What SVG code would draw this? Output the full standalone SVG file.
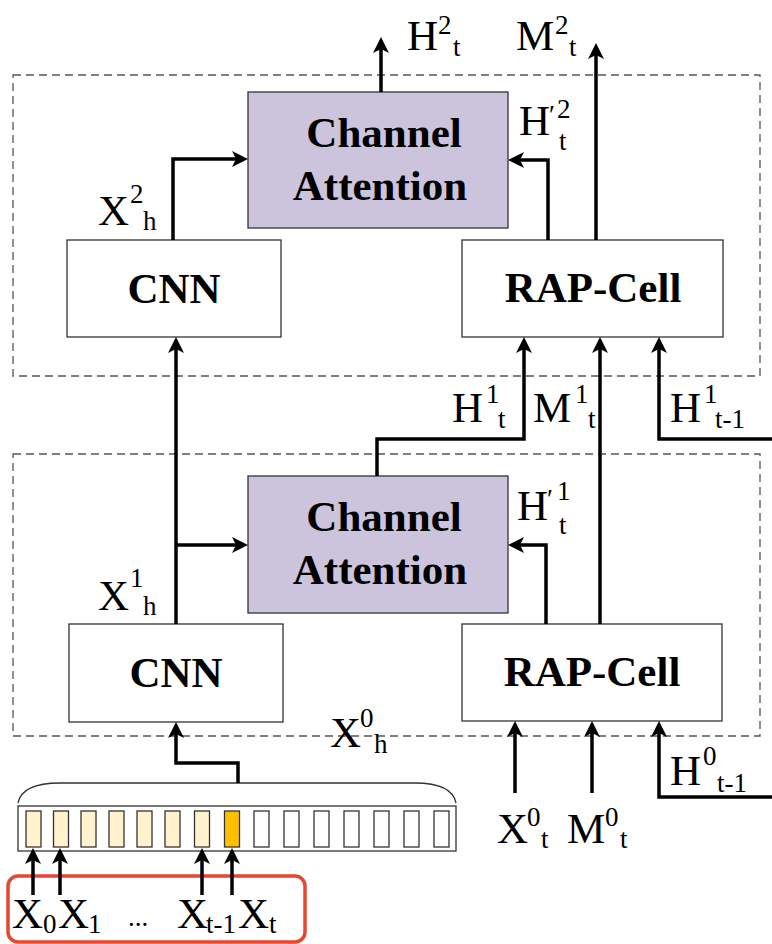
<svg xmlns="http://www.w3.org/2000/svg" width="772" height="944" viewBox="0 0 772 944">
<defs>
<marker id="ah" markerUnits="userSpaceOnUse" markerWidth="16" markerHeight="16" refX="6" refY="8" orient="auto">
<path d="M0,0 L16,8 L0,16 L4,8 z" fill="#000"/>
</marker>
<style>
.dash{fill:none;stroke:#555;stroke-width:1.3;stroke-dasharray:8 5}
.box{fill:#fff;stroke:#333;stroke-width:1.3}
.ca{fill:#ccc3dd;stroke:#333;stroke-width:1.3}
.bt{font-family:"Liberation Serif",serif;font-weight:bold;font-size:43px;text-anchor:middle;fill:#000}
.lb{font-family:"Liberation Serif",serif;font-size:43px;fill:#000}
.sm{font-family:"Liberation Serif",serif;font-size:27px;fill:#000}
.cn path{fill:none;stroke:#000;stroke-width:3.5;stroke-linejoin:miter}
.cell{stroke:#333;stroke-width:1.3}
</style>
</defs>
<rect width="772" height="944" fill="#fff"/>

<g id="layer2-frame"><rect class="dash" x="13" y="75" width="747" height="301"/></g>
<g id="layer1-frame"><rect class="dash" x="13" y="454" width="747" height="282"/></g>

<g id="ca2"><rect class="ca" x="248" y="92" width="260" height="136"/>
<text class="bt" x="384" y="147">Channel</text><text class="bt" x="380" y="200">Attention</text></g>
<g id="cnn2"><rect class="box" x="67" y="240" width="214" height="97"/><text class="bt" x="174" y="303">CNN</text></g>
<g id="rap2"><rect class="box" x="462" y="240" width="261" height="97"/><text class="bt" x="593" y="302">RAP-Cell</text></g>

<g id="ca1"><rect class="ca" x="248" y="476" width="260" height="137"/>
<text class="bt" x="384" y="531">Channel</text><text class="bt" x="380" y="584">Attention</text></g>
<g id="cnn1"><rect class="box" x="69" y="624" width="214" height="98"/><text class="bt" x="176" y="687">CNN</text></g>
<g id="rap1"><rect class="box" x="462" y="624" width="260" height="97"/><text class="bt" x="592" y="686">RAP-Cell</text></g>

<g id="sequence">
<path d="M18,803 Q22,783 60,783 L415,783 Q452,783 456,803" fill="none" stroke="#333" stroke-width="1.3"/>
<rect x="18" y="806" width="438" height="45" fill="#fff" stroke="#333" stroke-width="1.3"/>
<rect class="cell" fill="#fff2cc" x="26" y="811" width="15" height="36"/>
<rect class="cell" fill="#fff2cc" x="53.5" y="811" width="15" height="36"/>
<rect class="cell" fill="#fff2cc" x="81" y="811" width="15" height="36"/>
<rect class="cell" fill="#fff2cc" x="109" y="811" width="15" height="36"/>
<rect class="cell" fill="#fff2cc" x="137" y="811" width="15" height="36"/>
<rect class="cell" fill="#fff2cc" x="165" y="811" width="15" height="36"/>
<rect class="cell" fill="#fff2cc" x="194.5" y="811" width="15" height="36"/>
<rect class="cell" fill="#ffc000" x="224.5" y="811" width="15" height="36"/>
<rect class="cell" fill="#fff" x="254" y="811" width="15" height="36"/>
<rect class="cell" fill="#fff" x="284" y="811" width="15" height="36"/>
<rect class="cell" fill="#fff" x="314" y="811" width="15" height="36"/>
<rect class="cell" fill="#fff" x="344" y="811" width="15" height="36"/>
<rect class="cell" fill="#fff" x="374" y="811" width="15" height="36"/>
<rect class="cell" fill="#fff" x="404" y="811" width="15" height="36"/>
<rect class="cell" fill="#fff" x="434" y="811" width="15" height="36"/>
</g>

<g id="inputs-box"><rect x="8" y="876" width="297" height="66" rx="10" ry="10" fill="none" stroke="#e8472f" stroke-width="3.5"/></g>

<g id="connectors" class="cn">
<path d="M381,92 V47" marker-end="url(#ah)"/>
<path d="M596,240 V53" marker-end="url(#ah)"/>
<path d="M548,240 V160 H518" marker-end="url(#ah)"/>
<path d="M173,240 V159 H238" marker-end="url(#ah)"/>
<path d="M176,624 V347" marker-end="url(#ah)"/>
<path d="M176,545 H238" marker-end="url(#ah)"/>
<path d="M377,476 V439 H524 V347" marker-end="url(#ah)"/>
<path d="M600,624 V347" marker-end="url(#ah)"/>
<path d="M772,439 H659 V347" marker-end="url(#ah)"/>
<path d="M546,624 V545 H518" marker-end="url(#ah)"/>
<path d="M515,793 V731" marker-end="url(#ah)"/>
<path d="M592,793 V731" marker-end="url(#ah)"/>
<path d="M772,797 H659 V731" marker-end="url(#ah)"/>
<path d="M238,783 V763 H176 V732" marker-end="url(#ah)"/>
<path d="M33,895 V858" marker-end="url(#ah)"/>
<path d="M60,895 V858" marker-end="url(#ah)"/>
<path d="M202,895 V858" marker-end="url(#ah)"/>
<path d="M232,895 V858" marker-end="url(#ah)"/>
</g>

<g id="labels">
<text class="lb" x="407" y="50">H</text><text class="sm" x="438" y="34">2</text><text class="sm" x="453" y="56">t</text>
<text class="lb" x="516" y="50">M</text><text class="sm" x="555" y="34">2</text><text class="sm" x="569" y="56">t</text>
<text class="lb" x="519" y="135">H</text><text class="sm" x="549" y="124">′</text><text class="sm" x="557" y="118">2</text><text class="sm" x="559" y="150">t</text>
<text class="lb" x="98" y="225">X</text><text class="sm" x="130" y="203">2</text><text class="sm" x="143" y="230">h</text>
<text class="lb" x="98" y="610">X</text><text class="sm" x="130" y="587">1</text><text class="sm" x="143" y="615">h</text>
<text class="lb" x="330" y="747">X</text><text class="sm" x="360" y="727">0</text><text class="sm" x="374" y="753">h</text>
<text class="lb" x="452" y="422">H</text><text class="sm" x="486" y="403">1</text><text class="sm" x="498" y="428">t</text>
<text class="lb" x="533" y="422">M</text><text class="sm" x="575" y="403">1</text><text class="sm" x="588" y="428">t</text>
<text class="lb" x="670" y="422">H</text><text class="sm" x="704" y="403">1</text><text class="sm" x="715" y="428">t-1</text>
<text class="lb" x="517" y="520">H</text><text class="sm" x="547" y="508">′</text><text class="sm" x="557" y="500">1</text><text class="sm" x="559" y="534">t</text>
<text class="lb" x="670" y="785">H</text><text class="sm" x="703" y="765">0</text><text class="sm" x="717" y="792">t-1</text>
<text class="lb" x="497" y="843">X</text><text class="sm" x="527" y="826">0</text><text class="sm" x="541" y="848">t</text>
<text class="lb" x="567" y="843">M</text><text class="sm" x="605" y="826">0</text><text class="sm" x="620" y="848">t</text>
<text class="lb" x="12" y="928">X</text><text class="sm" x="43" y="933">0</text>
<text class="lb" x="58" y="928">X</text><text class="sm" x="88" y="933">1</text>
<text class="sm" x="128" y="926">...</text>
<text class="lb" x="177" y="928">X</text><text class="sm" x="206" y="933">t-1</text>
<text class="lb" x="238" y="928">X</text><text class="sm" x="269" y="933">t</text>
</g>
</svg>
